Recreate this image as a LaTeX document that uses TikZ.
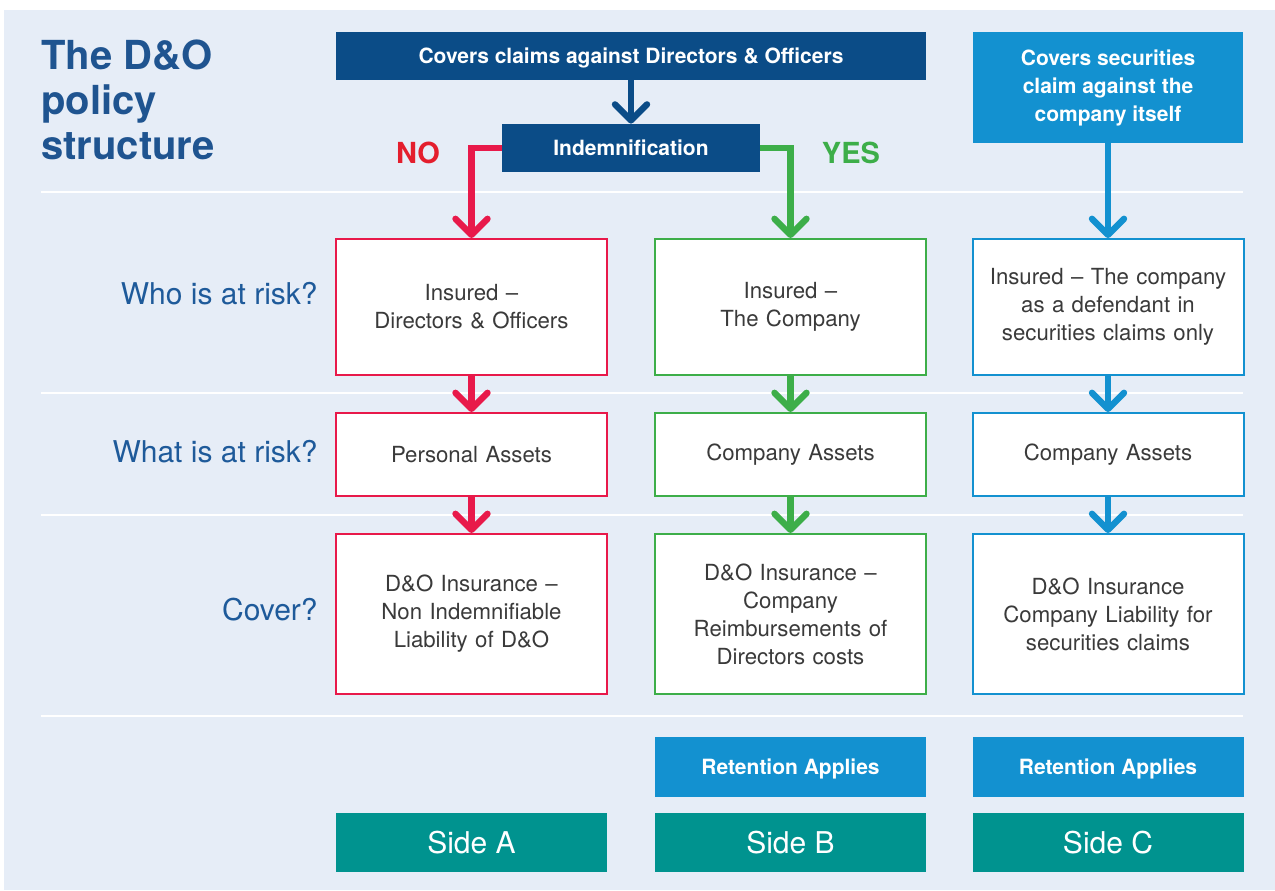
\documentclass[tikz,border=0pt]{standalone}
\usepackage{fontspec}
\setmainfont{TeX Gyre Heros}
\usetikzlibrary{arrows.meta,positioning}
\definecolor{dopanel}{RGB}{230,237,247}
\definecolor{donavy}{RGB}{11,76,135}
\definecolor{dotitle}{RGB}{31,84,144}
\definecolor{dolabel}{RGB}{30,90,154}
\definecolor{dored}{RGB}{232,25,74}
\definecolor{dono}{RGB}{228,30,45}
\definecolor{dogreen}{RGB}{61,174,73}
\definecolor{dosky}{RGB}{19,145,208}
\definecolor{doteal}{RGB}{0,147,143}
\definecolor{dotext}{RGB}{58,58,58}

\tikzset{
  flow/.style={line width=3.2pt,-{Straight Barb[length=8pt,width=16pt,round]}},
  riskbox/.style={draw=#1,fill=white,line width=1pt,minimum width=135.5pt,text width=130pt,
    align=center,inner sep=0pt,text=dotext,font=\fontsize{11.1}{14}\selectfont},
  headbox/.style={fill=#1,text=white,inner sep=0pt,align=center,
    font=\bfseries\fontsize{10.5}{14}\selectfont},
  sidebox/.style={fill=doteal,text=white,minimum width=135.5pt,minimum height=29.5pt,
    inner sep=0pt,font=\fontsize{15}{18}\selectfont},
  rowlabel/.style={anchor=east,inner sep=0pt,text=dolabel,font=\fontsize{15}{17}\selectfont},
  answer/.style={inner sep=0pt,text=#1,font=\bfseries\fontsize{14.5}{16}\selectfont}
}

\begin{document}
\begin{tikzpicture}[x=0.5pt,y=-0.5pt]
  \useasboundingbox (0,0) rectangle (1275,890);
  \fill[dopanel] (4,10) rectangle (1275,890);
  \foreach \y in {192,393,515,716}
    \draw[white,line width=1pt] (41,\y) -- (1243,\y);

  \node[anchor=north west,inner sep=0pt,align=left,text=dotitle,
    font=\bfseries\fontsize{20}{22.5}\selectfont] (title) at (41,39) {The D\&O\\policy\\structure};

  \node[headbox=donavy,minimum width=295pt,minimum height=24pt,text depth=0pt] (claims) at (631,56)
    {Covers claims against Directors \& Officers};
  \node[headbox=donavy,minimum width=129pt,minimum height=24pt] (indem) at (631,148) {Indemnification};
  \node[headbox=dosky,minimum width=135pt,minimum height=55.5pt] (secur) at (1108,87.5)
    {Covers securities\\claim against the\\company itself};
  \node[answer=dono] (no) at (418,153) {NO};
  \node[answer=dogreen] (yes) at (851,153) {YES};

  \node[rowlabel] (who) at (318,294) {Who is at risk?};
  \node[rowlabel] (what) at (318,452) {What is at risk?};
  \node[rowlabel] (cover) at (318,610) {Cover?};

  \node[riskbox=dored,minimum height=68pt] (whoA) at (471.5,307) {Insured --\\Directors \& Officers};
  \node[riskbox=dogreen,minimum height=68pt] (whoB) at (790.5,307) {Insured --\\The Company};
  \node[riskbox=dosky,minimum height=68pt] (whoC) at (1108,307)
    {Insured -- The company\\as a defendant in\\securities claims only};

  \node[riskbox=dored,minimum height=41.5pt] (whatA) at (471.5,454.5) {Personal Assets};
  \node[riskbox=dogreen,minimum height=41.5pt] (whatB) at (790.5,454.5) {Company Assets};
  \node[riskbox=dosky,minimum height=41.5pt] (whatC) at (1108,454.5) {Company Assets};

  \node[riskbox=dored,minimum height=80pt] (coverA) at (471.5,614)
    {D\&O Insurance --\\Non Indemnifiable\\Liability of D\&O};
  \node[riskbox=dogreen,minimum height=80pt] (coverB) at (790.5,614)
    {D\&O Insurance --\\Company\\Reimbursements of\\Directors costs};
  \node[riskbox=dosky,minimum height=80pt] (coverC) at (1108,614)
    {D\&O Insurance\\Company Liability for\\securities claims};

  \node[headbox=dosky,minimum width=135.5pt,minimum height=30pt,text depth=0pt] (retB) at (790.5,767) {Retention Applies};
  \node[headbox=dosky,minimum width=135.5pt,minimum height=30pt,text depth=0pt] (retC) at (1108,767) {Retention Applies};

  \node[sidebox] (sideA) at (471.5,842.5) {Side A};
  \node[sidebox] (sideB) at (790.5,842.5) {Side B};
  \node[sidebox] (sideC) at (1108,842.5) {Side C};

  \draw[flow,donavy] (claims) -- (indem);
  \draw[flow,dored] (indem.west) -| (whoA.north);
  \draw[flow,dogreen] (indem.east) -| (whoB.north);
  \draw[flow,dosky] (secur) -- (whoC);
  \foreach \c/\col in {A/dored,B/dogreen,C/dosky} {
    \draw[flow,\col] (who\c) -- (what\c);
    \draw[flow,\col] (what\c) -- (cover\c);
  }
\end{tikzpicture}
\end{document}
